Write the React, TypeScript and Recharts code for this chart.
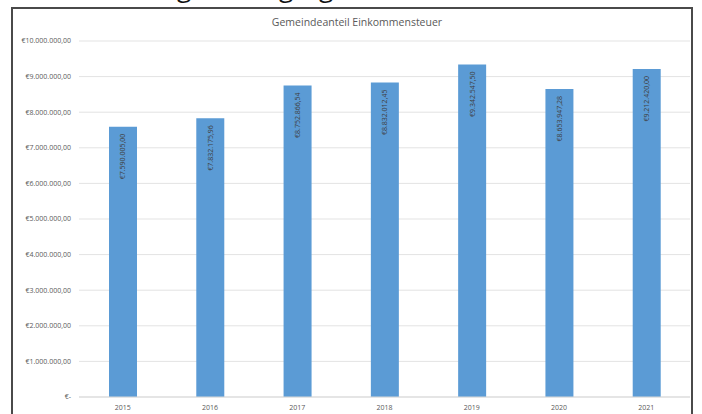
import { BarChart, Bar, XAxis, YAxis, CartesianGrid, LabelList } from "recharts";

const years = ["2015", "2016", "2017", "2018", "2019", "2020", "2021"];
const amounts = [7590005.0, 7832175.96, 8752866.54, 8832012.45, 9342547.5, 8653947.28, 9212420.0];
const yTicks = [0, 1e6, 2e6, 3e6, 4e6, 5e6, 6e6, 7e6, 8e6, 9e6, 1e7];

const data = years.map((year, i) => ({ year, value: amounts[i] }));

function euro(v: number) {
  if (v === 0) return "€-";
  const [int, dec] = v.toFixed(2).split(".");
  return "€" + int.replace(/\B(?=(\d{3})+(?!\d))/g, ".") + "," + dec;
}

function BarLabel({ x, y, width, value }: any) {
  const cx = x + width / 2;
  const top = y + 7;
  return (
    <text
      x={cx}
      y={top}
      transform={`rotate(-90 ${cx} ${top})`}
      textAnchor="end"
      dominantBaseline="central"
      fontSize={7}
      fill="#404040"
      fontFamily="Open Sans"
    >
      {euro(value)}
    </text>
  );
}

export default function App() {
  return (
    <div style={{ position: "absolute", left: 0, top: 0, width: 702, height: 414, overflow: "hidden", background: "#fff" }}>
      {/* cut-off heading above the chart frame */}
      <div style={{ position: "absolute", top: -27, left: 0, fontFamily: "Open Sans", fontSize: 26, lineHeight: "28px", color: "#111" }}>
        <span style={{ position: "absolute", left: 177 }}>g</span>
        <span style={{ position: "absolute", left: 279 }}>g</span>
        <span style={{ position: "absolute", left: 319 }}>g</span>
      </div>
      <div style={{ position: "absolute", left: 11, top: 7, width: 682, height: 430, border: "2px solid #4a4a4a", boxSizing: "border-box" }} />
      <div style={{ position: "absolute", top: 15, left: 0, width: 714, textAlign: "center", fontFamily: "Open Sans", fontSize: 10.5, color: "#595959" }}>
        Gemeindeanteil Einkommensteuer
      </div>
      <div style={{ position: "absolute", left: 0, top: 0 }}>
        <BarChart width={702} height={414} data={data} margin={{ top: 41, right: 12, left: 12, bottom: 3 }}>
          <CartesianGrid vertical={false} stroke="#e3e3e3" />
          <XAxis
            dataKey="year"
            height={14}
            axisLine={{ stroke: "#d9d9d9" }}
            tickLine={false}
            tick={{ fill: "#595959", fontSize: 7, fontFamily: "Open Sans" }}
          />
          <YAxis
            width={67}
            domain={[0, 10000000]}
            ticks={yTicks}
            axisLine={false}
            tickLine={false}
            tickFormatter={euro}
            tick={{ fill: "#595959", fontSize: 7, fontFamily: "Open Sans" }}
          />
          <Bar dataKey="value" fill="#5b9bd5" barSize={28} isAnimationActive={false}>
            <LabelList dataKey="value" content={<BarLabel />} />
          </Bar>
        </BarChart>
      </div>
    </div>
  );
}
